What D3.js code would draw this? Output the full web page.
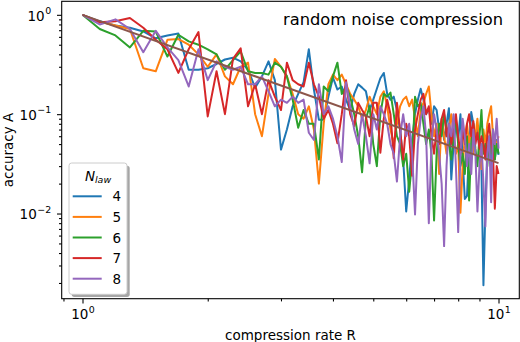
<!DOCTYPE html>
<html>
<head>
<meta charset="utf-8">
<script src="https://cdn.jsdelivr.net/npm/d3@7"></script>
<style>
  body { margin: 0; background: #fff; }
  svg { display: block; font-family: "DejaVu Sans", sans-serif; }
</style>
</head>
<body>
<div id="chart"></div>
<script>
// compression rate R (x)
var rates = [1.0, 1.1, 1.2, 1.3, 1.4, 1.5, 1.6, 1.7, 1.8, 1.9,
    2.0, 2.1, 2.2, 2.3, 2.4, 2.5, 2.6, 2.7, 2.8, 2.9,
    3.0, 3.1, 3.2, 3.3, 3.4, 3.5, 3.6, 3.7, 3.8, 3.9,
    4.0, 4.1, 4.2, 4.3, 4.4, 4.5, 4.6, 4.7, 4.8, 4.9,
    5.0, 5.1, 5.2, 5.3, 5.4, 5.5, 5.6, 5.7, 5.8, 5.9,
    6.0, 6.1, 6.2, 6.3, 6.4, 6.5, 6.6, 6.7, 6.8, 6.9,
    7.0, 7.1, 7.2, 7.3, 7.4, 7.5, 7.6, 7.7, 7.8, 7.9,
    8.0, 8.1, 8.2, 8.3, 8.4, 8.5, 8.6, 8.7, 8.8, 8.9,
    9.0, 9.1, 9.2, 9.3, 9.4, 9.5, 9.6, 9.7, 9.8, 9.9,
    10.0];

// accuracy A for each N_law
var acc4 = [1.0, 0.86, 0.78, 0.74, 0.68, 0.58, 0.62, 0.65, 0.28, 0.28,
    0.29, 0.32, 0.355, 0.37, 0.34, 0.28, 0.185, 0.24, 0.34, 0.22,
    0.044, 0.07, 0.12, 0.16, 0.21, 0.45, 0.177, 0.088, 0.088, 0.15,
    0.234, 0.177, 0.19, 0.14, 0.11, 0.16, 0.2, 0.185, 0.17, 0.11,
    0.14, 0.18, 0.23, 0.26, 0.16, 0.14, 0.15, 0.11, 0.07, 0.035,
    0.0105, 0.022, 0.055, 0.1, 0.14, 0.18, 0.14, 0.1, 0.115, 0.08,
    0.12, 0.11, 0.07, 0.088, 0.055, 0.08, 0.115, 0.022, 0.05, 0.08,
    0.055, 0.1, 0.035, 0.014, 0.015, 0.045, 0.105, 0.08, 0.055, 0.07,
    0.045, 0.028, 0.0019, 0.011, 0.045, 0.05, 0.031, 0.045, 0.035, 0.055,
    0.039];
var acc5 = [1.0, 0.85, 0.78, 0.72, 0.29, 0.27, 0.56, 0.57, 0.5, 0.4,
    0.3, 0.4, 0.24, 0.2, 0.3, 0.33, 0.1, 0.06, 0.16, 0.36,
    0.3, 0.24, 0.16, 0.1, 0.09, 0.12, 0.07, 0.02, 0.08, 0.2,
    0.25, 0.22, 0.25, 0.2, 0.16, 0.14, 0.12, 0.09, 0.11, 0.15,
    0.12, 0.1, 0.15, 0.17, 0.12, 0.07, 0.05, 0.08, 0.12, 0.14,
    0.15, 0.12, 0.14, 0.09, 0.06, 0.11, 0.13, 0.16, 0.19, 0.1,
    0.06, 0.08, 0.025, 0.09, 0.06, 0.04, 0.07, 0.1, 0.06, 0.04,
    0.05, 0.0102, 0.03, 0.06, 0.08, 0.05, 0.07, 0.04, 0.06, 0.09,
    0.05, 0.028, 0.07, 0.05, 0.08, 0.1, 0.12, 0.06, 0.04, 0.05,
    0.06];
var acc6 = [1.0, 0.72, 0.62, 0.47, 0.69, 0.68, 0.38, 0.63, 0.54, 0.5,
    0.45, 0.4, 0.28, 0.35, 0.43, 0.27, 0.26, 0.26, 0.25, 0.33,
    0.3, 0.24, 0.14, 0.073, 0.11, 0.08, 0.08, 0.035, 0.19, 0.17,
    0.24, 0.33, 0.16, 0.19, 0.15, 0.1, 0.06, 0.026, 0.09, 0.12,
    0.05, 0.03, 0.1, 0.16, 0.15, 0.165, 0.1, 0.06, 0.05, 0.03,
    0.04, 0.0166, 0.035, 0.15, 0.12, 0.13, 0.08, 0.05, 0.07, 0.04,
    0.0085, 0.04, 0.08, 0.06, 0.1, 0.07, 0.05, 0.035, 0.06, 0.09,
    0.05, 0.03, 0.04, 0.025, 0.06, 0.0135, 0.05, 0.08, 0.045, 0.03,
    0.06, 0.11, 0.04, 0.05, 0.03, 0.06, 0.04, 0.07, 0.035, 0.05,
    0.04];
var acc7 = [1.0, 0.84, 0.86, 0.93, 0.74, 0.56, 0.45, 0.26, 0.45, 0.67,
    0.095, 0.27, 0.1, 0.36, 0.46, 0.12, 0.2, 0.1, 0.22, 0.15,
    0.11, 0.33, 0.22, 0.2, 0.19, 0.33, 0.2, 0.15, 0.09, 0.11,
    0.08, 0.051, 0.1, 0.22, 0.1, 0.076, 0.13, 0.11, 0.095, 0.06,
    0.13, 0.13, 0.041, 0.09, 0.14, 0.1, 0.036, 0.13, 0.07, 0.035,
    0.08, 0.06, 0.024, 0.07, 0.1, 0.14, 0.16, 0.1, 0.12, 0.06,
    0.04, 0.07, 0.05, 0.09, 0.11, 0.06, 0.08, 0.05, 0.07, 0.1,
    0.06, 0.04, 0.07, 0.05, 0.08, 0.1, 0.06, 0.085, 0.05, 0.065,
    0.045, 0.06, 0.05, 0.035, 0.06, 0.08, 0.05, 0.04, 0.0112, 0.03,
    0.025];
var acc8 = [1.0, 0.8, 0.9, 0.72, 0.42, 0.69, 0.47, 0.35, 0.19, 0.45,
    0.22, 0.34, 0.3, 0.28, 0.3, 0.2, 0.2, 0.24, 0.17, 0.12,
    0.14, 0.13, 0.15, 0.13, 0.14, 0.065, 0.055, 0.2, 0.1, 0.12,
    0.09, 0.06, 0.033, 0.21, 0.12, 0.07, 0.05, 0.1, 0.06, 0.032,
    0.1, 0.07, 0.12, 0.1, 0.08, 0.05, 0.04, 0.021, 0.06, 0.1,
    0.06, 0.08, 0.04, 0.0098, 0.05, 0.09, 0.12, 0.06, 0.008, 0.05,
    0.1, 0.07, 0.04, 0.02, 0.0047, 0.03, 0.08, 0.06, 0.1, 0.03,
    0.0065, 0.04, 0.09, 0.06, 0.03, 0.05, 0.025, 0.07, 0.04, 0.0105,
    0.03, 0.05, 0.02, 0.0074, 0.04, 0.06, 0.013, 0.07, 0.05, 0.09,
    0.045];

var nLaw = ['4', '5', '6', '7', '8'];
var seriesAcc = [acc4, acc5, acc6, acc7, acc8];
var seriesColors = ['#1f77b4', '#ff7f0e', '#2ca02c', '#d62728', '#9467bd'];

// power law fit line
var fitRates = [1, 10];
var fitAcc = [1, 0.0322];
var fitColor = '#8c564b';

var xMajor = [1, 10];
var xMinor = [0.9, 2, 3, 4, 5, 6, 7, 8, 9];
var yMajor = [0.01, 0.1, 1];
var yMinor = [0.002, 0.003, 0.004, 0.005, 0.006, 0.007, 0.008, 0.009,
    0.02, 0.03, 0.04, 0.05, 0.06, 0.07, 0.08, 0.09,
    0.2, 0.3, 0.4, 0.5, 0.6, 0.7, 0.8, 0.9];

var titleText = 'random noise compression';
var xLabel = 'compression rate R';
var yLabel = 'accuracy A';

var width = 520, height = 342;
var margin = { left: 61.7, right: 0.7, top: 1.3, bottom: 43.3 };
var fontSize = 13.5;
var majorLen = 4.7, minorLen = 2.7;

var svg = d3.select('#chart').append('svg')
    .attr('width', width)
    .attr('height', height);

// matplotlib style 5% margins in log space
function logDomain(values) {
    var ext = d3.extent(values);
    var lo = Math.log10(ext[0]), hi = Math.log10(ext[1]);
    var pad = (hi - lo) * 0.05;
    return [Math.pow(10, lo - pad), Math.pow(10, hi + pad)];
}

var allAcc = d3.merge(seriesAcc.concat([fitAcc]));
var x = d3.scaleLog().domain(logDomain(rates))
    .range([margin.left, width - margin.right]);
var y = d3.scaleLog().domain(logDomain(allAcc))
    .range([height - margin.bottom, margin.top]);

svg.append('clipPath').attr('id', 'plotclip')
    .append('rect')
    .attr('x', margin.left).attr('y', margin.top)
    .attr('width', width - margin.left - margin.right)
    .attr('height', height - margin.top - margin.bottom);

var line = d3.line()
    .x(function(d) { return x(d[0]); })
    .y(function(d) { return y(d[1]); });

var plot = svg.append('g').attr('clip-path', 'url(#plotclip)');

seriesAcc.forEach(function(acc, i) {
    plot.append('path')
        .datum(d3.zip(rates, acc))
        .attr('d', line)
        .attr('fill', 'none')
        .attr('stroke', seriesColors[i])
        .attr('stroke-width', 2)
        .attr('stroke-linejoin', 'round');
});

plot.append('path')
    .datum(d3.zip(fitRates, fitAcc))
    .attr('d', line)
    .attr('fill', 'none')
    .attr('stroke', fitColor)
    .attr('stroke-width', 2);

// axes
function styleAxis(g) {
    g.select('.domain').remove();
    g.selectAll('.tick line').attr('stroke', '#000').attr('stroke-width', 1.08);
    g.attr('font-family', '"DejaVu Sans", sans-serif').attr('font-size', fontSize);
}

function powerLabel(sel, isX) {
    sel.selectAll('.tick text').each(function(d) {
        var t = d3.select(this);
        var exp = Math.round(Math.log10(d));
        t.text(null).attr('dy', null).attr('fill', '#000');
        if (isX) {
            t.attr('y', 20.8);
        } else {
            t.attr('x', -10.5).attr('y', 5.4);
        }
        t.append('tspan').text('10');
        t.append('tspan')
            .attr('dy', -6.6)
            .attr('dx', 0.5)
            .attr('font-size', fontSize * 0.7)
            .text(exp < 0 ? '\u2212' + (-exp) : String(exp));
    });
}

var gx = svg.append('g')
    .attr('transform', 'translate(0,' + (height - margin.bottom) + ')')
    .call(d3.axisBottom(x).tickValues(xMajor).tickSize(majorLen));
styleAxis(gx);
powerLabel(gx, true);

svg.append('g')
    .attr('transform', 'translate(0,' + (height - margin.bottom) + ')')
    .call(d3.axisBottom(x).tickValues(xMinor).tickSize(minorLen).tickFormat(''))
    .call(styleAxis);

var gy = svg.append('g')
    .attr('transform', 'translate(' + margin.left + ',0)')
    .call(d3.axisLeft(y).tickValues(yMajor).tickSize(majorLen));
styleAxis(gy);
powerLabel(gy, false);

svg.append('g')
    .attr('transform', 'translate(' + margin.left + ',0)')
    .call(d3.axisLeft(y).tickValues(yMinor).tickSize(minorLen).tickFormat(''))
    .call(styleAxis);

// spines
svg.append('rect')
    .attr('x', margin.left).attr('y', margin.top)
    .attr('width', width - margin.left - margin.right)
    .attr('height', height - margin.top - margin.bottom)
    .attr('fill', 'none')
    .attr('stroke', '#000')
    .attr('stroke-width', 1.08);

// labels
svg.append('text')
    .attr('x', (margin.left + width - margin.right) / 2)
    .attr('y', 339.5)
    .attr('text-anchor', 'middle')
    .attr('font-size', fontSize)
    .text(xLabel);

svg.append('text')
    .attr('transform', 'translate(12.5,' + ((margin.top + height - margin.bottom) / 2) + ') rotate(-90)')
    .attr('text-anchor', 'middle')
    .attr('font-size', fontSize)
    .text(yLabel);

svg.append('text')
    .attr('x', 503)
    .attr('y', 25)
    .attr('text-anchor', 'end')
    .attr('font-size', 16.3)
    .text(titleText);

// legend
var legend = svg.append('g').attr('transform', 'translate(69,163)');
var legW = 58, legH = 131.3;

legend.append('rect')
    .attr('x', 2.7).attr('y', 2.7)
    .attr('width', legW).attr('height', legH)
    .attr('rx', 2.7)
    .attr('fill', '#4d4d4d')
    .attr('opacity', 0.5);

legend.append('rect')
    .attr('width', legW).attr('height', legH)
    .attr('rx', 2.7)
    .attr('fill', '#fff')
    .attr('stroke', '#cccccc')
    .attr('stroke-width', 1);

var legTitle = legend.append('text')
    .attr('x', legW / 2)
    .attr('y', 17.5)
    .attr('text-anchor', 'middle')
    .attr('font-size', fontSize)
    .attr('font-style', 'italic');
legTitle.append('tspan').text('N');
legTitle.append('tspan')
    .attr('dy', 2.8)
    .attr('font-size', fontSize * 0.7)
    .text('law');

var rows = legend.selectAll('.row')
    .data(nLaw)
    .enter().append('g')
    .attr('class', 'row')
    .attr('transform', function(d, i) { return 'translate(0,' + (33.3 + i * 20.6) + ')'; });

rows.append('line')
    .attr('x1', 3.7).attr('x2', 32.7)
    .attr('stroke', function(d, i) { return seriesColors[i]; })
    .attr('stroke-width', 2);

rows.append('text')
    .attr('x', 43.5)
    .attr('y', 5)
    .attr('font-size', fontSize)
    .text(function(d) { return d; });
</script>
</body>
</html>
